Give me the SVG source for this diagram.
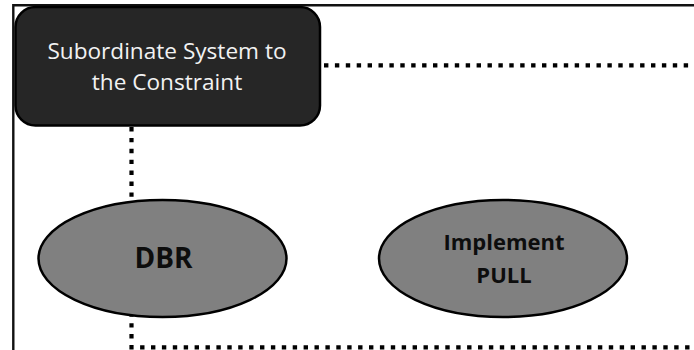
<svg xmlns="http://www.w3.org/2000/svg" width="694" height="350" viewBox="0 0 694 350">
  <style>
    .frame { stroke: #111; stroke-width: 2.4; fill: none; }
    .link { stroke: #000; stroke-width: 4.2; fill: none; stroke-dasharray: 4.4 6.5; }
    .box { fill: #262626; stroke: #000; stroke-width: 2.5; }
    .oval { fill: #808080; stroke: #000; stroke-width: 2.5; }
    .light { fill: #f2f2f2; font-family: "Open Sans", "Liberation Sans", sans-serif; font-size: 22.6px; text-anchor: middle; }
    .dark { fill: #0d0d0d; font-family: "Open Sans", "Liberation Sans", sans-serif; font-weight: bold; text-anchor: middle; }
  </style>
  <rect width="694" height="350" fill="#fff"/>

  <!-- outer frame edges -->
  <path class="frame" d="M13.3 350 V5.3 H694"/>

  <!-- dotted connectors -->
  <g id="connectors">
    <path class="link" d="M324 65.3 H694"/>
    <path class="link" d="M131.5 127 V347.3 H694"/>
  </g>

  <g id="subordinate">
    <rect class="box" x="15.5" y="7" width="304.5" height="118.5" rx="20" ry="20"/>
    <text class="light" x="167" y="58.5">Subordinate System to</text>
    <text class="light" x="167" y="90">the Constraint</text>
  </g>

  <g id="dbr">
    <ellipse class="oval" cx="162.5" cy="258.5" rx="124" ry="58.5"/>
    <text class="dark" x="163.5" y="268.3" font-size="28">DBR</text>
  </g>

  <g id="pull">
    <ellipse class="oval" cx="503" cy="258.5" rx="124" ry="58.5"/>
    <text class="dark" x="504" y="250" font-size="22">Implement</text>
    <text class="dark" x="504" y="282.5" font-size="22">PULL</text>
  </g>
</svg>
